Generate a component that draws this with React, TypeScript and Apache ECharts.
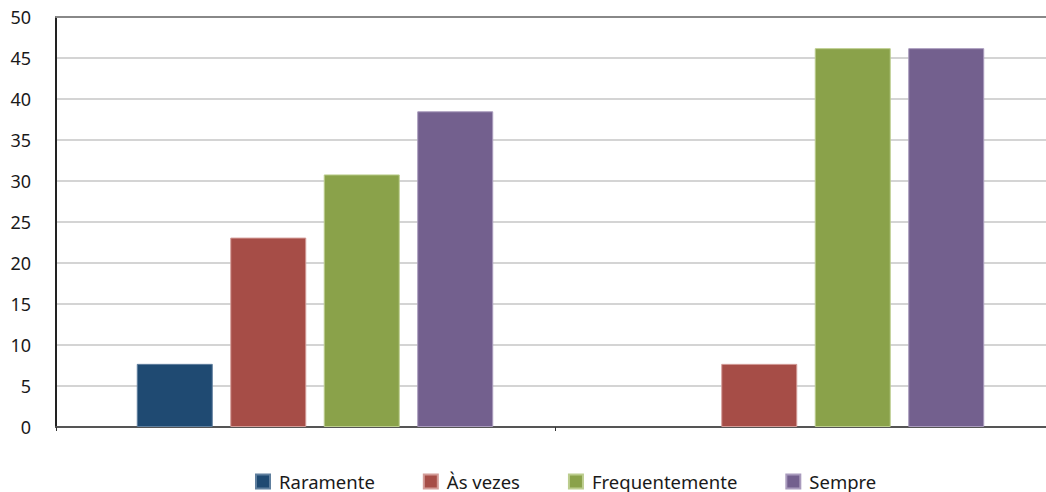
import React, { useEffect, useRef } from "react";
import * as echarts from "echarts";

const categories = ["Grupo 1", "Grupo 2"];
const seriesNames = ["Raramente", "Às vezes", "Frequentemente", "Sempre"];
const raramente = [7.7, 0];
const asVezes = [23.1, 7.7];
const frequentemente = [30.8, 46.2];
const sempre = [38.5, 46.2];
const yTicks = { min: 0, max: 50, interval: 5 };

const colors = ["#1F4A72", "#A64D47", "#8AA24A", "#73608E"];
const borders = ["#5f7f9e", "#d39c98", "#bccd8e", "#a99bbd"];

export default function App() {
  const ref = useRef<HTMLDivElement>(null);
  useEffect(() => {
    if (!ref.current) return;
    const chart = echarts.init(ref.current, undefined, { renderer: "svg" });
    const values = [raramente, asVezes, frequentemente, sempre];
    const font = "'Noto Sans', sans-serif";
    chart.setOption({
      animation: false,
      textStyle: { fontFamily: font },
      grid: [
        { left: 56, top: 17, width: 998, height: 410 },
        { left: 69.5, top: 17, width: 982, height: 410 },
      ],
      legend: {
        data: seriesNames,
        left: 250,
        top: 467,
        itemWidth: 14,
        itemHeight: 14,
        itemGap: 48,
        icon: "rect",
        textStyle: { fontSize: 18.5, color: "#1a1a1a", fontFamily: font, padding: [0, 0, 0, 4] },
      },
      xAxis: [
        {
          type: "category",
          gridIndex: 0,
          data: categories,
          axisLine: { lineStyle: { color: "#555", width: 2 } },
          axisTick: { show: true, length: 4, lineStyle: { color: "#333", width: 1 } },
          axisLabel: { show: false },
        },
        {
          type: "category",
          gridIndex: 0,
          position: "top",
          data: categories,
          axisLine: { lineStyle: { color: "#888", width: 2 } },
          axisTick: { show: false },
          axisLabel: { show: false },
        },
        {
          type: "category",
          gridIndex: 1,
          data: categories,
          show: false,
        },
      ],
      yAxis: [
        {
          type: "value",
          gridIndex: 0,
          min: yTicks.min,
          max: yTicks.max,
          interval: yTicks.interval,
          axisLine: { show: true, lineStyle: { color: "#222", width: 2 } },
          axisTick: { show: false },
          axisLabel: { fontSize: 18, color: "#1a1a1a", margin: 25, fontFamily: font },
          splitLine: { lineStyle: { color: "#c6c6c6", width: 1.5 } },
        },
        {
          type: "value",
          gridIndex: 1,
          min: yTicks.min,
          max: yTicks.max,
          interval: yTicks.interval,
          show: false,
        },
      ],
      series: seriesNames.map((name, i) => ({
        name,
        type: "bar",
        xAxisIndex: 2,
        yAxisIndex: 1,
        data: values[i].map((v) => ({
          value: v,
          itemStyle: { borderWidth: v === 0 ? 0 : 1 },
        })),
        barWidth: 76,
        barGap: "23%",
        itemStyle: { color: colors[i], borderColor: borders[i], borderWidth: 1 },
      })),
    });
    return () => chart.dispose();
  }, []);
  return (
    <div style={{ position: "fixed", left: 0, top: 0, width: 1046, height: 492, overflow: "hidden", background: "#fff" }}>
      <div ref={ref} style={{ width: 1060, height: 492 }} />
    </div>
  );
}
